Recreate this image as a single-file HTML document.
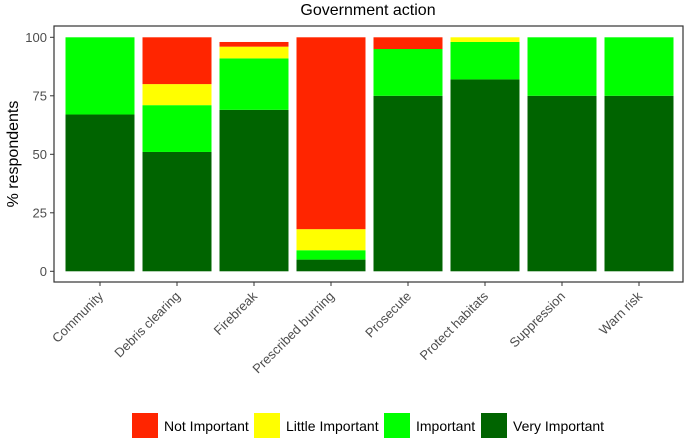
<!DOCTYPE html>
<html><head><meta charset="utf-8"><style>body{margin:0;background:#fff}svg{display:block;font-family:"Liberation Sans",sans-serif}</style></head>
<body>
<svg id="c" width="685" height="440"></svg>
<script>
const categories=["Community","Debris clearing","Firebreak","Prescribed burning","Prosecute","Protect habitats","Suppression","Warn risk"];
const veryImportant=[67,51,69,5,75,82,75,75];
const important=[33,20,22,4,20,16,25,25];
const littleImportant=[0,9,5,9,0,2,0,0];
const notImportant=[0,20,2,82,5,0,0,0];
const yTicks=[0,25,50,75,100];
const NS="http://www.w3.org/2000/svg";
const svg=document.getElementById('c');
function mk(t,a,txt){const e=document.createElementNS(NS,t);for(const k in a)e.setAttribute(k,a[k]);if(txt!==undefined)e.textContent=txt;svg.appendChild(e);return e;}
const L=54,R=683,T=26,B=282,step=77,x0=100,bw=69;
const y=v=>271.3-v*2.34;
const x=i=>x0+i*step;
const series=[[veryImportant,"#006400","very-important"],[important,"#00ff00","important"],[littleImportant,"#ffff00","little-important"],[notImportant,"#ff2500","not-important"]];
categories.forEach((c,i)=>{let base=0;series.forEach(([arr,col,nm])=>{const v=arr[i];if(v>0){const r=mk('rect',{x:x(i)-bw/2,y:y(base+v),width:bw,height:y(base)-y(base+v),fill:col});

}base+=v;});
const tk=mk('line',{x1:x(i),x2:x(i),y1:B,y2:B+4,stroke:'#333','stroke-width':1});


const tl=mk('text',{x:x(i)+4,y:B+15,'text-anchor':'end','font-size':13,fill:'#4d4d4d',transform:`rotate(-45 ${x(i)+4} ${B+15})`},c);

});
yTicks.forEach(v=>{const t=mk('line',{x1:L-4,x2:L,y1:y(v),y2:y(v),stroke:'#333'});


const l=mk('text',{x:L-7,y:y(v)+4.5,'text-anchor':'end','font-size':13,fill:'#4d4d4d'},v);

});
const p=mk('rect',{x:L,y:T,width:R-L,height:B-T,fill:'none',stroke:'#333','stroke-width':1.2});


const ti=mk('text',{x:368,y:15,'text-anchor':'middle','font-size':16,fill:'#000'},"Government action");


const yt=mk('text',{x:18,y:154,'text-anchor':'middle','font-size':16,fill:'#000',transform:'rotate(-90 18 154)'},"% respondents");


const leg=[["Not Important","#ff2500",132],["Little Important","#ffff00",254],["Important","#00ff00",384],["Very Important","#006400",481]];
leg.forEach(([n,c,lx])=>{const r=mk('rect',{x:lx,y:413,width:26,height:25,fill:c});


const t=mk('text',{x:lx+32,y:431,'font-size':14,fill:'#000'},n);

});
</script>
</body></html>
